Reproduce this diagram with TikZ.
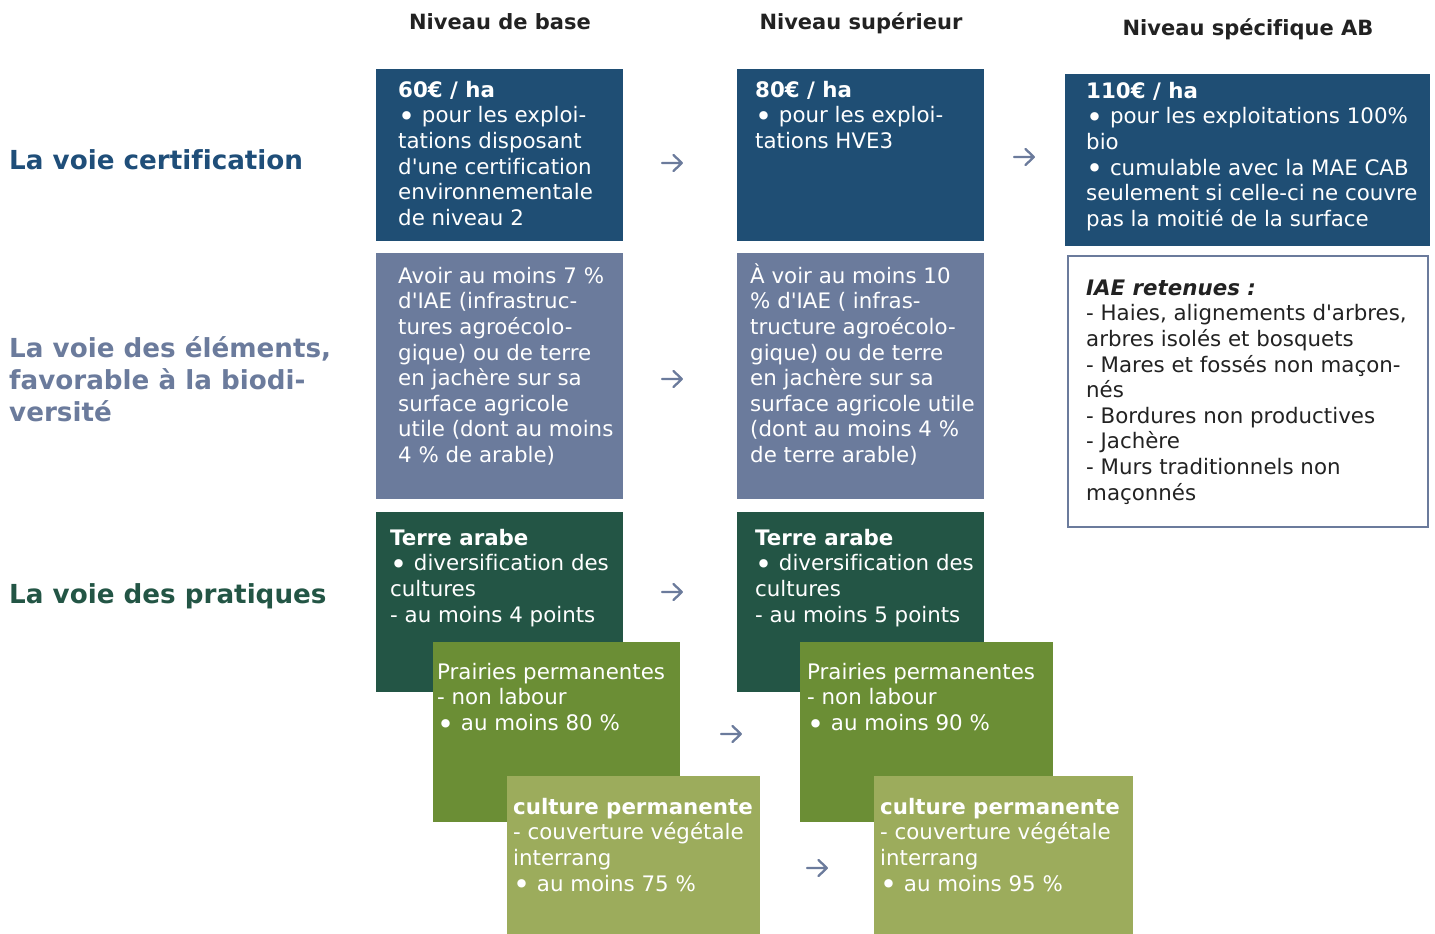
\documentclass[tikz,border=0pt]{standalone}
\usepackage{fontspec}
\usepackage{graphicx}
\newfontfamily\vfont{DejaVu Sans}[Ligatures=CommonOff]
\definecolor{cblue}{HTML}{1F4E74}
\definecolor{cgrey}{HTML}{6B7B9C}
\definecolor{cdgreen}{HTML}{235545}
\definecolor{cmgreen}{HTML}{6B8E35}
\definecolor{clgreen}{HTML}{9CAC5C}
\definecolor{ctxt}{HTML}{222222}
\definecolor{ctblue}{HTML}{1F4E79}
\newcommand\hstrut{\rule{0pt}{22pt}}
\newcommand\tstrut{\rule{0pt}{27pt}}
\newcommand\bul{\raisebox{-3.8pt}{\scalebox{1.35}{\textbullet}}\ }
\tikzset{
  panel/.style={anchor=north west, inner sep=0pt, outer sep=0pt, fill=#1, draw=none},
  body/.style={anchor=north west, inner sep=0pt, align=left, text=white,
    font=\vfont\fontsize{21.35}{25.6}\selectfont},
  colhead/.style={anchor=base, inner sep=0pt, text=ctxt,
    font=\vfont\bfseries\fontsize{21}{25.6}\selectfont},
  rowhead/.style={anchor=north west, inner sep=0pt, align=left, text=#1,
    font=\vfont\bfseries\fontsize{26.2}{32}\selectfont},
  stepmark/.style={inner sep=0pt, minimum width=22pt, minimum height=18pt,
    path picture={
      \draw[cgrey, line width=2.3pt, line cap=round, line join=round]
        ([xshift=-10pt]path picture bounding box.center)
          -- ([xshift=9.5pt]path picture bounding box.center)
        ([xshift=1.5pt, yshift=8pt]path picture bounding box.center)
          -- ([xshift=9.8pt]path picture bounding box.center)
          -- ([xshift=1.5pt, yshift=-8pt]path picture bounding box.center);
    }},
}
\begin{document}
\begin{tikzpicture}[x=1pt, y=-1pt]
\useasboundingbox (0,0) rectangle (1435,934);

% column headings
\node[colhead] (h1) at (500,30) {Niveau de base};
\node[colhead] (h2) at (861,30) {Niveau supérieur};
\node[colhead] (h3) at (1248,36) {Niveau spécifique AB};

% row headings
\node[rowhead=ctblue] (r1) at (9,142) {\tstrut La voie certification};
\node[rowhead=cgrey] (r2) at (9,330) {\tstrut La voie des éléments,\\favorable à la biodi-\\versité};
\node[rowhead=cdgreen] (r3) at (9,576) {\tstrut La voie des pratiques};

% certification row
\node[panel=cblue, minimum width=247, minimum height=172] (b1) at (376,69) {};
\node[panel=cblue, minimum width=247, minimum height=172] (b2) at (737,69) {};
\node[panel=cblue, minimum width=365, minimum height=172] (b3) at (1065,74) {};
\node[body] (tb1) at (398,75) {\hstrut\textbf{60€ / ha}\\
  \bul pour les exploi-\\tations disposant\\d'une certification\\
  environnementale\\de niveau 2};
\node[body] (tb2) at (755,75) {\hstrut\textbf{80€ / ha}\\
  \bul pour les exploi-\\tations HVE3};
\node[body] (tb3) at (1086,76) {\hstrut\textbf{110€ / ha}\\
  \bul pour les exploitations 100\%\\bio\\
  \bul cumulable avec la MAE CAB\\seulement si celle-ci ne couvre\\
  pas la moitié de la surface};

% biodiversity row
\node[panel=cgrey, minimum width=247, minimum height=246] (g1) at (376,253) {};
\node[panel=cgrey, minimum width=247, minimum height=246] (g2) at (737,253) {};
\node[panel=white, draw=cgrey, line width=2.5pt, minimum width=360, minimum height=271] (iae) at (1068,256) {};
\node[body] (tg1) at (398,261) {\hstrut Avoir au moins 7 \%\\d'IAE (infrastruc-\\
  tures agroécolo-\\gique) ou de terre\\en jachère sur sa\\surface agricole\\
  utile (dont au moins\\4 \% de arable)};
\node[body] (tg2) at (750,261) {\hstrut À voir au moins 10\\\% d'IAE ( infras-\\
  tructure agroécolo-\\gique) ou de terre\\en jachère sur sa\\
  surface agricole utile\\(dont au moins 4 \%\\de terre arable)};
\node[body, text=ctxt] (tiae) at (1086,273) {\hstrut\textbf{\itshape IAE retenues :}\\
  - Haies, alignements d'arbres,\\arbres isolés et bosquets\\
  - Mares et fossés non maçon-\\nés\\- Bordures non productives\\
  - Jachère\\- Murs traditionnels non\\maçonnés};

% practices row
\node[panel=cdgreen, minimum width=247, minimum height=180] (d1) at (376,512) {};
\node[panel=cdgreen, minimum width=247, minimum height=180] (d2) at (737,512) {};
\node[panel=cmgreen, minimum width=247, minimum height=180] (m1) at (433,642) {};
\node[panel=cmgreen, minimum width=253, minimum height=180] (m2) at (800,642) {};
\node[panel=clgreen, minimum width=253, minimum height=158] (l1) at (507,776) {};
\node[panel=clgreen, minimum width=259, minimum height=158] (l2) at (874,776) {};
\node[body] (td1) at (390,523) {\hstrut\textbf{Terre arabe}\\
  \bul diversification des\\cultures\\- au moins 4 points};
\node[body] (td2) at (755,523) {\hstrut\textbf{Terre arabe}\\
  \bul diversification des\\cultures\\- au moins 5 points};
\node[body] (tm1) at (437,657) {\hstrut Prairies permanentes\\- non labour\\
  \bul au moins 80 \%};
\node[body] (tm2) at (807,657) {\hstrut Prairies permanentes\\- non labour\\
  \bul au moins 90 \%};
\node[body] (tl1) at (513,792) {\hstrut\textbf{culture permanente}\\
  - couverture végétale\\interrang\\\bul au moins 75 \%};
\node[body] (tl2) at (880,792) {\hstrut\textbf{culture permanente}\\
  - couverture végétale\\interrang\\\bul au moins 95 \%};

% level arrows
\node[stepmark] (a1) at (672,163) {};
\node[stepmark] (a2) at (1024,157) {};
\node[stepmark] (a3) at (672,379) {};
\node[stepmark] (a4) at (672,592) {};
\node[stepmark] (a5) at (731,734) {};
\node[stepmark] (a6) at (817,868) {};
\end{tikzpicture}
\end{document}
